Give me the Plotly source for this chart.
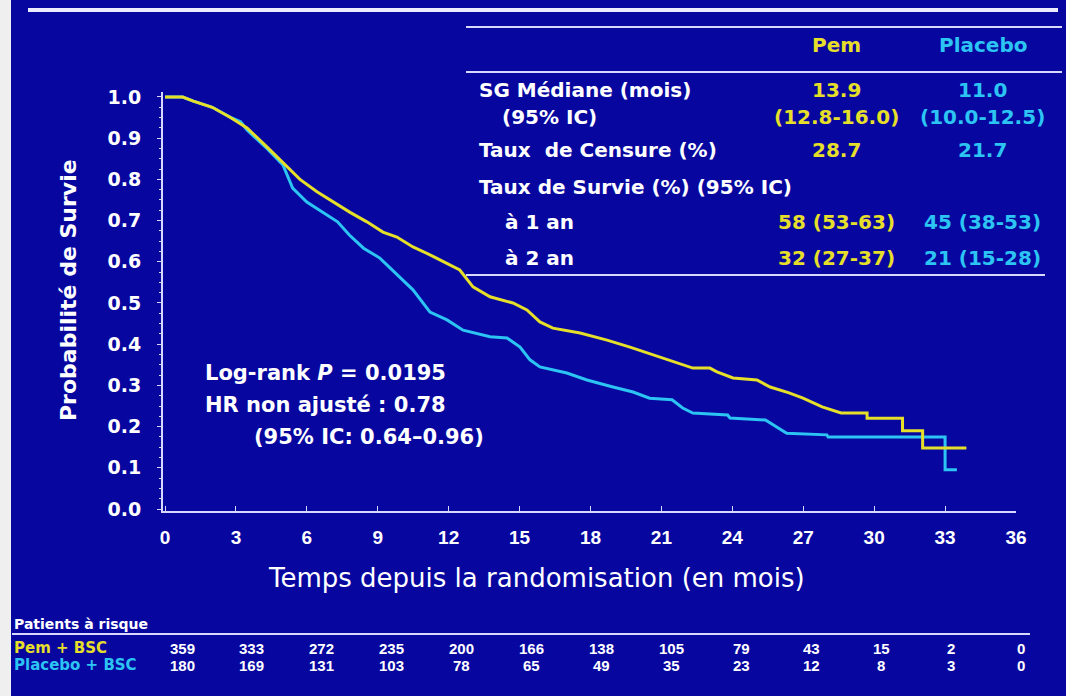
import plotly.graph_objects as go

# ---------------- data ----------------
months_pem = [0, 0.75, 1.2, 2.0, 2.75, 3.47, 4.31, 4.99, 5.71, 6.43, 7.13, 7.83, 8.54, 9.22,
              9.81, 10.49, 11.21, 11.93, 12.47, 13.03, 13.75, 14.72, 15.31, 15.86, 16.41,
              17.56, 18.7, 19.67, 20.39, 21.23, 22.33, 23.05, 23.35, 24.03, 25.04, 25.6,
              26.4, 26.99, 27.8, 28.6, 29.7, 29.7, 31.2, 31.2, 32.05, 32.05, 33.9]
surv_pem = [1.0, 1.0, 0.99, 0.975, 0.951, 0.925, 0.879, 0.84, 0.80, 0.77, 0.745, 0.72, 0.697, 0.672,
            0.66, 0.636, 0.617, 0.597, 0.58, 0.539, 0.515, 0.50, 0.483, 0.454, 0.439,
            0.427, 0.41, 0.393, 0.379, 0.362, 0.342, 0.342, 0.333, 0.318, 0.313, 0.296,
            0.282, 0.269, 0.248, 0.233, 0.233, 0.22, 0.22, 0.19, 0.19, 0.148, 0.148]

months_pbo = [0, 0.75, 1.2, 2.0, 2.75, 3.2, 3.47, 4.31, 4.99, 5.4, 6.0, 6.7, 7.3, 7.8, 8.4,
              9.09, 9.94, 10.49, 11.21, 11.93, 12.61, 13.75, 14.47, 15.02, 15.44, 15.86,
              17.0, 17.85, 18.95, 19.8, 20.5, 21.45, 21.9, 22.33, 23.8, 23.9, 25.4, 25.9,
              26.3, 28.0, 28.05, 33.0, 33.0, 33.5]
surv_pbo = [1.0, 1.0, 0.99, 0.975, 0.951, 0.94, 0.92, 0.875, 0.835, 0.779, 0.745, 0.72, 0.697, 0.665, 0.633,
            0.609, 0.563, 0.532, 0.478, 0.459, 0.434, 0.418, 0.415, 0.393, 0.362, 0.345,
            0.33, 0.313, 0.296, 0.284, 0.269, 0.265, 0.245, 0.233, 0.228, 0.221, 0.216, 0.197,
            0.184, 0.18, 0.175, 0.175, 0.095, 0.095]

x_ticks = [0, 3, 6, 9, 12, 15, 18, 21, 24, 27, 30, 33, 36]
y_ticks = [0.0, 0.1, 0.2, 0.3, 0.4, 0.5, 0.6, 0.7, 0.8, 0.9, 1.0]

risk_pem = [359, 333, 272, 235, 200, 166, 138, 105, 79, 43, 15, 2, 0]
risk_pbo = [180, 169, 131, 103, 78, 65, 49, 35, 23, 12, 8, 3, 0]

table_header = ["Pem", "Placebo"]
table_labels = ["SG Médiane (mois)", "(95% IC)", "Taux\u00a0 de Censure (%)",
                "Taux de Survie (%) (95% IC)", "à 1 an", "à 2 an"]
table_pem = ["13.9", "(12.8-16.0)", "28.7", "", "58 (53-63)", "32 (27-37)"]
table_pbo = ["11.0", "(10.0-12.5)", "21.7", "", "45 (38-53)", "21 (15-28)"]

stats_lines = ["Log-rank <i>P</i> = 0.0195", "HR non ajusté : 0.78", "(95% IC: 0.64–0.96)"]

# ---------------- styling ----------------
BG = "#0707a0"
YEL = "#e6df2a"
CYA = "#2cc4f2"
WHITE = "#ffffff"
LINE = "#d8d8ff"
BOLD = "DejaVu Sans"
ARIAL = "Liberation Sans, Arial, sans-serif"
NARROW = "Liberation Sans Narrow, Arial Narrow, Liberation Sans, sans-serif"

W, H = 1066, 696
L, R, T, B = 163, 1016, 92, 511


def xp(px):
    return (px - L) / (R - L)


def yp(py):
    return (B - py) / (B - T)


fig = go.Figure()
fig.add_trace(go.Scatter(x=months_pbo, y=surv_pbo, mode="lines",
                         line=dict(color=CYA, width=3), showlegend=False))
fig.add_trace(go.Scatter(x=months_pem, y=surv_pem, mode="lines",
                         line=dict(color=YEL, width=3), showlegend=False))

ann = []
# table header
ann.append(dict(x=xp(836), y=yp(45), text="<b>" + table_header[0] + "</b>",
                font=dict(color=YEL, size=20, family=BOLD)))
ann.append(dict(x=xp(983), y=yp(45), text="<b>" + table_header[1] + "</b>",
                font=dict(color=CYA, size=20, family=BOLD)))
row_y = [90, 117, 150, 187, 222, 258]
label_x = [477, 500, 477, 477, 503, 503]
for i, lab in enumerate(table_labels):
    ann.append(dict(x=xp(label_x[i]), y=yp(row_y[i]), text="<b>" + lab + "</b>", xanchor="left",
                    font=dict(color=WHITE, size=20, family=BOLD)))
    if table_pem[i]:
        ann.append(dict(x=xp(836), y=yp(row_y[i]), text="<b>" + table_pem[i] + "</b>",
                        font=dict(color=YEL, size=20, family=BOLD)))
    if table_pbo[i]:
        ann.append(dict(x=xp(982), y=yp(row_y[i]), text="<b>" + table_pbo[i] + "</b>",
                        font=dict(color=CYA, size=20, family=BOLD)))

# stats text
stats_xy = [(203, 373), (203, 405), (252, 437)]
for (sx, sy), t in zip(stats_xy, stats_lines):
    ann.append(dict(x=xp(sx), y=yp(sy), text="<b>" + t + "</b>", xanchor="left",
                    font=dict(color=WHITE, size=21, family=BOLD)))

# axis titles
ann.append(dict(x=xp(68), y=yp(290), text="<b>Probabilité de Survie</b>", textangle=-90,
                font=dict(color=WHITE, size=22, family=BOLD)))
ann.append(dict(x=xp(536), y=yp(578), text="Temps depuis la randomisation (en mois)",
                font=dict(color=WHITE, size=26, family="DejaVu Sans")))

# at-risk table
ann.append(dict(x=xp(12), y=yp(624), text="<b>Patients à risque</b>", xanchor="left",
                font=dict(color=WHITE, size=14, family=BOLD)))
ann.append(dict(x=xp(12), y=yp(648), text="<b>Pem + BSC</b>", xanchor="left",
                font=dict(color=YEL, size=15, family=BOLD)))
ann.append(dict(x=xp(12), y=yp(665), text="<b>Placebo + BSC</b>", xanchor="left",
                font=dict(color=CYA, size=15, family=BOLD)))
for i in range(len(risk_pem)):
    cx = 182 + 69.9 * i
    ann.append(dict(x=xp(cx), y=yp(648), text="<b>%d</b>" % risk_pem[i],
                    font=dict(color=WHITE, size=15, family=NARROW)))
    ann.append(dict(x=xp(cx), y=yp(665), text="<b>%d</b>" % risk_pbo[i],
                    font=dict(color=WHITE, size=15, family=NARROW)))

for a in ann:
    a.setdefault("xref", "paper")
    a.setdefault("yref", "paper")
    a.setdefault("showarrow", False)
    a.setdefault("xanchor", "center")
    a.setdefault("yanchor", "middle")

shapes = [
    # grey strip at left edge
    dict(type="rect", xref="paper", yref="paper", x0=xp(0), x1=xp(11), y0=yp(0), y1=yp(H),
         fillcolor="#efefef", line=dict(width=0), layer="below"),
    # top white rule
    dict(type="line", xref="paper", yref="paper", x0=xp(28), x1=xp(1058), y0=yp(10), y1=yp(10),
         line=dict(color="#ececff", width=4)),
    # table rules
    dict(type="line", xref="paper", yref="paper", x0=xp(466), x1=xp(1062), y0=yp(27), y1=yp(27),
         line=dict(color=LINE, width=2)),
    dict(type="line", xref="paper", yref="paper", x0=xp(466), x1=xp(1062), y0=yp(72), y1=yp(72),
         line=dict(color=LINE, width=2)),
    dict(type="line", xref="paper", yref="paper", x0=xp(466), x1=xp(1045), y0=yp(275), y1=yp(275),
         line=dict(color=LINE, width=2)),
    # at-risk rule
    dict(type="line", xref="paper", yref="paper", x0=xp(12), x1=xp(1030), y0=yp(634), y1=yp(634),
         line=dict(color=LINE, width=2)),
]

fig.update_layout(
    width=W, height=H,
    margin=dict(l=L, r=W - R, t=T, b=H - B, pad=0),
    paper_bgcolor=BG, plot_bgcolor=BG,
    annotations=ann, shapes=shapes,
    showlegend=False,
)
fig.update_xaxes(range=[-0.0846, 36], tickvals=x_ticks, ticktext=[str(v) for v in x_ticks],
                 showgrid=False, zeroline=False, showline=True, linecolor=LINE, linewidth=2,
                 ticks="inside", ticklen=5, tickcolor=LINE, tickwidth=1,
                 tickfont=dict(color=WHITE, size=19, family=ARIAL, weight="bold"),
                 ticklabelstandoff=8)
fig.update_yaxes(range=[-0.00485, 1.0121], tickvals=y_ticks, ticktext=["%.1f" % v for v in y_ticks],
                 showgrid=False, zeroline=False, showline=True, linecolor=LINE, linewidth=2,
                 ticks="outside", ticklen=4, tickcolor=LINE, tickwidth=1,
                 minor=dict(dtick=0.025, ticks="outside", ticklen=2, tickcolor=LINE),
                 tickfont=dict(color=WHITE, size=19, family=BOLD, weight="bold"),
                 ticklabelstandoff=12)

fig.write_html("out.html")
